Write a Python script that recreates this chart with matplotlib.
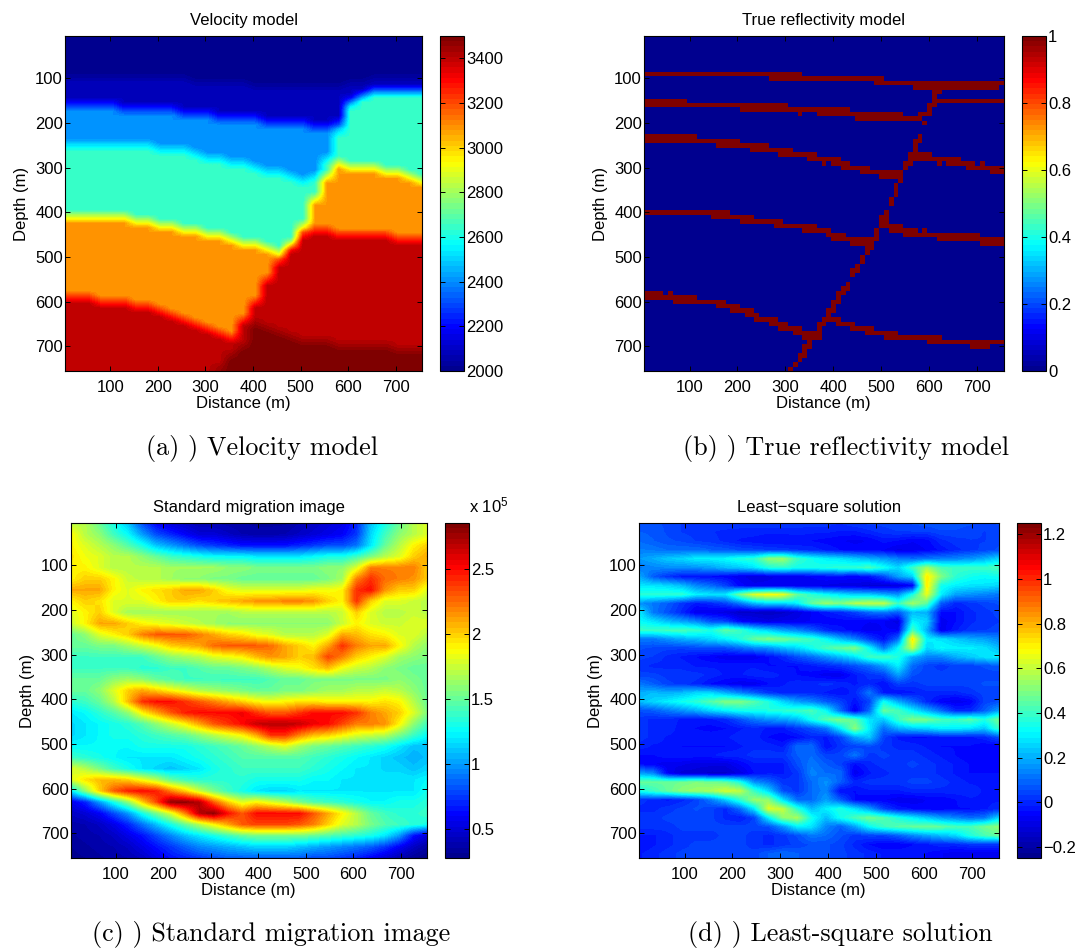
import numpy as np
import matplotlib
matplotlib.use("Agg")
import matplotlib.pyplot as plt
from matplotlib.colors import LinearSegmentedColormap

plt.rcParams['font.family'] = ['Liberation Sans', 'DejaVu Sans']
plt.rcParams['mathtext.default'] = 'regular'
plt.rcParams['axes.unicode_minus'] = True

W, H = 1086, 952

tick_values = [100, 200, 300, 400, 500, 600, 700]

# velocity model: layer speeds and the depth of each interface, one value per column
vel_columns = [5, 30, 55, 80, 105, 130, 155, 180, 205, 230, 255, 280, 305, 330, 355, 380,
               405, 430, 455, 480, 505, 530, 555, 580, 605, 630, 655, 680, 705, 730, 755]
vel_layers = [2000, 2090, 2400, 2640, 3080, 3400, 3500]
vel_interfaces = [
    [95, 95, 95, 95, 95, 95, 95, 95, 100, 100, 100, 105, 105, 110, 110, 110,
     115, 115, 115, 120, 120, 120, 120, 115, 105, 105, 100, 100, 100, 95, 95],
    [160, 160, 160, 160, 160, 165, 165, 165, 170, 172, 175, 178, 180, 185, 185, 190,
     190, 195, 195, 200, 200, 205, 205, 195, 150, 135, 130, 130, 128, 125, 125],
    [245, 245, 245, 245, 247, 248, 250, 252, 255, 258, 263, 268, 275, 280, 287, 292,
     298, 305, 312, 320, 328, 318, 275, 215, 155, 135, 130, 130, 128, 125, 125],
    [410, 410, 410, 410, 412, 414, 418, 424, 430, 434, 438, 442, 447, 452, 458, 465,
     472, 480, 485, 465, 425, 370, 320, 292, 295, 298, 300, 305, 310, 318, 325],
    [585, 590, 590, 595, 597, 600, 605, 610, 615, 625, 635, 645, 655, 670, 675, 640,
     595, 550, 505, 480, 445, 440, 440, 445, 445, 448, 450, 452, 455, 458, 462],
    [770, 770, 770, 770, 770, 770, 770, 770, 770, 770, 770, 770, 770, 750, 720, 695,
     650, 660, 670, 678, 685, 690, 693, 697, 700, 702, 703, 704, 705, 705, 705],
]

# reflectivity model: (depth, first x, last x) of every run of reflective cells
refl_runs = [
    (90, 10, 330), (100, 270, 500), (110, 490, 750), (120, 570, 740), (130, 610, 620),
    (140, 610, 610), (150, 10, 90), (150, 610, 750), (160, 10, 300), (160, 600, 610),
    (170, 210, 430), (170, 600, 600), (180, 330, 330), (180, 370, 540), (180, 580, 600),
    (190, 450, 580), (200, 590, 590),
    (230, 10, 110), (230, 580, 580), (240, 10, 200), (240, 570, 580), (250, 160, 260),
    (250, 570, 570), (260, 230, 310), (260, 570, 570), (270, 290, 360), (270, 560, 600),
    (280, 350, 410), (280, 560, 660), (290, 380, 380), (290, 400, 430), (290, 550, 560),
    (290, 620, 620), (290, 640, 690), (290, 710, 710), (300, 420, 470), (300, 550, 550),
    (300, 680, 750), (310, 460, 530), (310, 540, 540), (310, 730, 750), (320, 500, 540),
    (330, 540, 540), (340, 530, 530), (350, 530, 530), (360, 530, 530), (370, 520, 520),
    (380, 520, 520),
    (400, 10, 180), (400, 510, 510), (410, 150, 230), (410, 500, 510), (420, 210, 290),
    (420, 500, 510), (430, 280, 360), (430, 500, 540), (440, 340, 390), (440, 490, 490),
    (440, 520, 570), (440, 590, 590), (450, 390, 420), (450, 490, 490), (450, 550, 700),
    (460, 400, 470), (460, 480, 490), (460, 620, 700), (460, 710, 750), (470, 440, 480),
    (470, 710, 750), (480, 470, 480), (490, 470, 470), (500, 460, 460), (510, 460, 460),
    (520, 450, 450), (530, 440, 450), (540, 440, 440), (560, 430, 430), (570, 420, 430),
    (580, 10, 40), (580, 60, 60), (580, 410, 420), (590, 10, 110), (590, 410, 410),
    (600, 70, 170), (600, 400, 410), (610, 160, 200), (610, 400, 400), (620, 190, 230),
    (620, 390, 400), (630, 220, 240), (630, 390, 390), (640, 240, 280), (640, 380, 410),
    (650, 270, 300), (650, 370, 380), (650, 410, 440), (660, 290, 330), (660, 370, 370),
    (660, 440, 480), (670, 320, 370), (670, 470, 530), (680, 340, 370), (680, 510, 620),
    (690, 350, 350), (690, 600, 750), (700, 340, 350), (700, 690, 720), (710, 340, 340),
    (720, 330, 340), (730, 330, 330), (740, 320, 320), (750, 310, 310),
]

# standard migration image, in units of 10^4
mig_columns = [5, 35, 65, 95, 125, 155, 185, 215, 245, 275, 305, 335, 365,
               395, 425, 455, 485, 515, 545, 575, 605, 635, 665, 695, 725, 755]
mig_depths = [5, 30, 55, 80, 105, 130, 155, 180, 205, 230, 255, 280, 305, 330, 355, 380,
              405, 430, 455, 480, 505, 530, 555, 580, 605, 630, 655, 680, 705, 730, 755]
mig_values = [
    [17, 17, 15, 13, 11, 8, 6, 5, 4.5, 4, 4, 3.8, 3.6, 3.5, 3.5, 3.5, 4, 4.5, 5, 5.5, 7, 11, 13, 15, 17, 18],
    [19, 17, 16, 14, 12.5, 10, 8, 7, 6, 5, 5, 4.5, 4, 3.8, 3.8, 4, 4.5, 5, 5.5, 6, 7.5, 11.5, 14, 16, 17, 18],
    [19, 18, 17, 16, 14.5, 13, 11, 10, 9, 8, 7.5, 7, 6.5, 6.5, 6.5, 6.5, 7, 7.5, 8, 8, 9, 12, 15, 17, 19, 20],
    [19.5, 18.5, 18, 17, 17, 16, 15, 14, 13.5, 13, 12.5, 12.5, 12.5, 12, 12, 12, 12, 12.5, 13, 13, 14, 15.5, 17, 18, 20, 21],
    [19, 19, 18, 17, 17, 17, 17, 16.5, 16.5, 16.5, 16.5, 16, 16, 15.5, 15.5, 15.5, 15.5, 15.5, 16, 16, 18, 22, 22, 22, 22, 20],
    [19, 20, 20, 19, 17.5, 17, 17, 16.5, 16, 16, 15.5, 15.5, 15, 15, 15, 15, 15, 15, 15.5, 16.5, 22, 24, 22.5, 22, 21.5, 20],
    [21, 21, 21, 19, 18, 19, 19.5, 20, 21, 21, 20, 18.5, 18, 18, 18, 18, 18, 18.5, 18.5, 19, 24, 25, 21.5, 20, 20, 18],
    [19, 20, 19.5, 18, 18, 18, 19, 20, 20, 19.5, 20, 20.5, 21, 21.5, 21.5, 22, 22, 21.5, 20, 19, 24, 20, 18, 18, 17.5, 17],
    [18, 19, 20, 18, 16.5, 16.5, 16.5, 16.5, 16.5, 16.5, 16.5, 16.5, 17, 17, 17, 17, 17, 17, 17, 17.5, 20, 18, 17, 17, 17.5, 17],
    [17.5, 19, 21, 21, 20, 19, 18.5, 18, 17.5, 17, 16.5, 16, 16, 16, 16, 16, 16, 16, 16, 17.5, 19, 18, 17.5, 17.5, 18, 18],
    [15, 16, 18, 19, 20, 22, 23, 23, 23, 22, 21, 20, 19.5, 18.5, 18, 17, 17, 17, 18, 21, 20.5, 19.5, 19, 18, 18, 17],
    [15, 15, 15.5, 15.5, 16.5, 17.5, 18.5, 20, 20.5, 21, 22.5, 23, 23, 23, 22.5, 21, 20, 19, 21, 24, 22, 21, 21, 19, 17, 16],
    [14, 14, 14, 14, 14, 14, 15, 16, 16.5, 17, 18, 18.5, 19, 20.5, 21.5, 21, 20, 20.5, 23.5, 22, 20, 19, 18, 16.5, 16, 15.5],
    [14, 14, 14, 14, 14, 13.5, 13.5, 14, 14, 14.5, 15, 15, 15.5, 16, 17, 18, 18.5, 19.5, 20.5, 18.5, 17.5, 17, 16, 15.5, 15, 15],
    [15, 15, 15, 16, 16.5, 16, 15, 14.5, 14, 14, 14, 14, 14, 14, 14.5, 15, 15, 15.5, 15.5, 15.5, 15.5, 15.5, 15.5, 16, 15.5, 15],
    [15, 15, 16, 18, 20, 21, 20, 19, 18, 17, 16.5, 16, 15.5, 15, 15, 15.5, 15.5, 16, 16.5, 16.5, 17, 17, 17.5, 17, 16, 15],
    [13.5, 14, 15, 17, 20.5, 24, 25, 25, 24, 23, 22, 21, 20, 19, 18.5, 19, 19.5, 19.5, 19, 19, 19, 19, 19.5, 19, 17, 15],
    [12, 12.5, 13.5, 14.5, 16, 19, 21, 23, 24.5, 25, 25, 25, 25.5, 24, 23, 23, 24, 25, 25, 25, 24, 22, 21, 20, 18, 15.5],
    [11.5, 12, 12.5, 13, 13.5, 14.5, 16, 17.5, 19, 21, 23, 24, 25, 26.5, 27, 27, 26.5, 25.5, 25, 23.5, 22, 22, 21.5, 19, 16, 14],
    [11.5, 12, 12.5, 13, 13, 13.5, 14, 14.5, 15, 16, 17, 18, 19, 21, 24, 24, 22, 20.5, 20, 19, 18, 17.5, 17, 15.5, 14, 12.5],
    [12.5, 12.5, 12.5, 12.5, 12.5, 13, 13, 13, 13, 13.5, 14, 14.5, 15, 16, 17, 18, 16.5, 15.5, 15, 14.5, 14, 13.5, 13, 12, 11, 11],
    [14, 13.5, 13, 12.5, 12, 12, 12, 12, 12.5, 13, 13.5, 14, 14.5, 14.5, 14.5, 14.5, 14.5, 14, 13.5, 13, 12.5, 12, 11.5, 11, 10.5, 11],
    [18, 17, 15.5, 14, 13, 12, 11.5, 11, 11.5, 12, 13, 13.5, 14, 14, 14, 14, 14, 13.5, 13, 12.5, 12, 12, 11.5, 11.5, 11, 11.5],
    [18, 19.5, 20.5, 20.5, 20, 18.5, 17, 15, 14, 13.5, 13.5, 13.5, 13.5, 13, 13, 13, 13, 12.5, 12.5, 12, 12, 12, 12, 12, 12, 12.5],
    [12, 16, 20, 23, 24.5, 25, 24.5, 22, 20, 17.5, 15.5, 14, 13, 12, 11.5, 11.5, 12, 12, 12, 12, 12, 12, 12, 12, 12, 13],
    [5.5, 7, 10, 13, 16, 20, 23.5, 28, 28, 27, 23, 20, 18, 19, 18, 17, 15.5, 14.5, 14, 13.5, 13, 12.5, 12.5, 13, 13, 13.5],
    [4.5, 5, 6, 8, 10, 13, 15.5, 18, 22, 27, 28, 25, 23, 25, 25, 25, 25, 23, 21, 19, 17, 15, 14, 13.5, 13.5, 14],
    [3.8, 4, 4.5, 5.5, 7, 9, 11, 13, 15, 17, 19, 21, 23, 23.5, 23.5, 23.5, 23, 22, 20, 18, 17, 15.5, 14.5, 14, 13.5, 13],
    [3.5, 3.8, 4, 4.5, 5.5, 6.5, 8, 9.5, 11, 12, 13, 14, 15, 15.5, 15.5, 15.5, 15.5, 15, 14.5, 14, 13.5, 13, 12, 10, 6.5, 5],
    [3.2, 3.5, 3.8, 4, 4.5, 5.5, 6.5, 7.5, 8.5, 9.5, 10, 10.5, 11, 11.5, 11.5, 11.5, 11, 10.5, 10, 9.5, 9, 8.5, 7.5, 6, 4.5, 3.5],
    [3, 3.2, 3.5, 3.8, 4, 4.5, 5.5, 6.5, 7, 7.5, 8, 8.5, 8.5, 8.5, 8.5, 8.5, 8.5, 8, 8, 7.5, 7, 6, 5, 4, 3.2, 2.8],
]

# least-square solution, in hundredths
lsq_columns = mig_columns
lsq_depths = [5, 25, 45, 65, 85, 105, 125, 145, 165, 185, 205, 225, 245, 265, 285, 305, 325, 345, 365,
              385, 405, 425, 445, 465, 485, 505, 525, 545, 565, 585, 605, 625, 645, 665, 685, 705, 725, 745]
lsq_values = [
    [6, 6, 5, 3, 3, 3, 3, 2, 2, 3, 3, 2, 2, 2, 1, 3, 4, 4, 5, 6, 7, 8, 7, 6, 5, 6],
    [8, 7, 5, 3, 2, 1, 0, 0, 0, -1, -1, 0, -1, -1, -2, -2, 0, 2, 3, 3, 3, 5, 5, 4, 3, 4],
    [10, 8, 6, 5, 3, 2, 0, -2, -3, -4, -4, -4, -4, -5, -6, -7, -6, -3, -4, -6, -5, 0, 2, 3, 3, 5],
    [13, 12, 10, 10, 10, 8, 7, 5, 4, 3, 2, 1, 0, -2, -4, -5, -5, -6, -9, -8, -6, -3, 0, 2, 4, 6],
    [17, 20, 24, 26, 30, 30, 32, 36, 38, 52, 54, 40, 34, 30, 28, 24, 20, 17, 13, 10, 12, 13, 14, 16, 20, 26],
    [12, 14, 15, 15, 16, 18, 22, 24, 28, 36, 38, 34, 34, 36, 38, 38, 42, 34, 26, 40, 55, 42, 40, 40, 40, 42],
    [20, 8, 2, -2, -3, -4, -5, -8, -10, -9, -8, -7, -6, -4, -4, -5, -3, 5, 18, 25, 72, 50, 38, 34, 32, 34],
    [28, 28, 26, 22, 14, 10, 4, -5, -8, -8, -8, -8, -8, -9, -10, -10, -12, -12, -10, -6, 72, 34, 30, 28, 28, 26],
    [38, 38, 38, 38, 30, 28, 28, 48, 64, 68, 66, 46, 38, 32, 28, 24, 24, 20, 16, 35, 65, 30, 18, 16, 14, 12],
    [16, 12, 8, 2, -2, 0, 4, 12, 22, 26, 26, 30, 46, 54, 50, 58, 60, 60, 40, 55, 45, 8, 0, 2, 4, 6],
    [30, 12, 6, 0, -8, -8, -10, -14, -14, -15, -14, -10, -6, -2, 0, 4, 10, 12, 8, 22, 20, -4, -4, 0, 2, 4],
    [32, 28, 22, 18, 14, 6, 4, -5, -8, -10, -8, -8, -6, -6, -5, -5, -6, -6, -10, 30, 26, -8, -4, 0, 2, 3],
    [40, 40, 42, 42, 40, 35, 45, 40, 30, 25, 18, 14, 8, 0, -3, -5, -8, -6, -6, 42, 20, -8, -2, 2, 3, 4],
    [12, 12, 16, 20, 22, 26, 30, 36, 46, 50, 48, 44, 40, 32, 22, 14, 4, -4, 10, 72, 30, 28, 24, 20, 18, 14],
    [6, 5, 4, 4, 5, 6, 6, 10, 14, 16, 22, 26, 34, 42, 46, 50, 32, 12, 32, 60, 26, 32, 30, 30, 28, 22],
    [4, 3, 0, -2, -4, -6, -8, -8, -8, -4, 0, 6, 10, 16, 22, 28, 40, 42, 36, 20, 14, 14, 20, 24, 28, 30],
    [2, 0, 0, 0, -2, -2, -2, -2, -2, -4, -4, -4, -2, 0, 2, 6, 10, 18, 30, 10, 4, 2, 4, 4, 6, 8],
    [4, 4, 2, 2, 2, 0, -2, -2, 0, 0, -2, -4, -5, -8, -8, -2, 2, 4, 18, 6, 4, 4, 4, 4, 4, 4],
    [12, 8, 4, 2, 0, -4, -6, -8, -8, -4, -2, 0, 0, 2, 0, -2, 0, -4, 4, 2, 4, 4, 4, 4, 6, 6],
    [20, 22, 20, 22, 26, 26, 20, 14, 8, 2, 0, 0, 0, -2, -4, 0, 12, -2, -4, -2, 0, 0, 0, 2, 4, 4],
    [22, 26, 30, 34, 38, 44, 50, 50, 44, 36, 26, 18, 14, 8, 4, -3, 4, 34, 20, 10, 0, -6, -8, -6, 4, 6],
    [6, 8, 12, 16, 20, 26, 30, 34, 34, 36, 38, 40, 42, 32, 10, -8, 10, 46, 42, 30, 20, 10, 0, 0, 8, 18],
    [2, 0, 0, -2, -3, -2, 0, 6, 12, 16, 18, 22, 34, 44, 50, 44, 28, 24, 40, 50, 48, 42, 40, 44, 36, 48],
    [2, 0, 0, -3, -4, -5, -4, -2, 0, -2, -2, 2, 6, 12, 30, 52, 30, 10, 20, 24, 26, 30, 30, 28, 24, 40],
    [2, 0, -2, -2, -2, -2, -2, 0, 0, -4, -6, -4, 0, -2, 4, 18, 24, 4, -2, -4, -4, -2, -2, -2, 0, 6],
    [0, -2, -2, -4, -4, -4, -4, -2, 0, 0, -2, 10, 10, -4, 2, 4, 6, 2, 0, 0, -2, -4, -4, -4, -6, -6],
    [-4, -4, -2, -2, -2, -2, 0, 0, 2, 2, 2, 8, 10, 4, 4, 12, 2, 4, 2, 2, 0, -2, -4, -6, -6, -6],
    [-4, -6, -8, -8, -10, -10, -10, -6, -2, -2, -2, 6, 12, 8, 4, -4, 0, 2, 2, 4, 2, 0, -2, -4, -6, -6],
    [18, 14, -6, -12, -12, -14, -14, -10, -4, -2, -2, 2, 14, 10, 10, -8, -2, 0, 2, 2, 2, 0, -2, -4, -4, -4],
    [46, 46, 46, 48, 50, 48, 46, 36, 16, 10, 2, 2, 10, 16, 8, 0, 2, 2, 2, 4, 4, 2, 0, -2, -2, -2],
    [34, 40, 46, 52, 54, 56, 62, 60, 40, 26, 6, 2, 10, 14, -4, -4, -2, -2, -2, 0, 0, 0, 0, 0, -2, -2],
    [2, 0, -2, 0, 4, 12, 24, 38, 54, 52, 28, 10, 10, 18, 8, -4, -6, -6, -8, -8, -6, -6, -4, -2, -2, -2],
    [0, 0, 2, 4, 6, 4, 0, 10, 28, 64, 60, 38, 22, 30, 36, 28, 18, 4, -2, -4, -6, -6, -4, -4, -2, 0],
    [2, 2, 4, 4, 4, 4, 0, -2, 4, 30, 52, 56, 34, 22, 34, 42, 48, 44, 36, 30, 24, 18, 14, 10, 12, 26],
    [2, 2, 2, 4, 4, 4, 4, 4, 4, 6, 16, 30, 28, 14, 8, 18, 32, 40, 44, 46, 48, 46, 42, 42, 48, 52],
    [-2, -2, 0, 2, 2, 2, 4, 4, 2, 0, 2, 6, 12, 10, 6, 2, 4, 4, 8, 14, 18, 22, 26, 36, 42, 46],
    [-4, -2, 0, 2, 4, 4, 4, 4, 2, 0, 2, 4, 6, 6, 4, 0, -4, -6, -6, -4, -2, 0, 0, 2, 2, 2],
    [-2, 0, 2, 4, 4, 4, 4, 4, 4, 8, 10, 8, 6, 6, 4, 2, 0, -2, -2, -2, -4, -6, -8, -8, -8, -8],
]

# the old matlab jet, 64 steps
jet = LinearSegmentedColormap.from_list('matlab_jet', [
    (0, (0, 0, 0.5625)), (0.125, (0, 0, 1)), (0.375, (0, 1, 1)),
    (0.625, (1, 1, 0)), (0.875, (1, 0, 0)), (1, (0.5, 0, 0))], N=64)


def box(left, top, right, bottom):
    return [left / W, 1 - bottom / H, (right - left) / W, (bottom - top) / H]


def panel(xs, ys, z, rect, cbar_rect, clim, cbar_ticks, cbar_labels, title, caption, cap_x, cap_y, interp='bilinear'):
    ax = fig.add_axes(box(*rect))
    dx = (xs[1] - xs[0]) / 2
    dy = (ys[1] - ys[0]) / 2
    im = ax.imshow(z, cmap=jet, vmin=clim[0], vmax=clim[1], aspect='auto', interpolation=interp,
                   extent=(xs[0] - dx, xs[-1] + dx, ys[-1] + dy, ys[0] - dy))
    ax.set_xlim(5, 755)
    ax.set_ylim(755, 5)
    ax.set_xticks(tick_values)
    ax.set_yticks(tick_values)
    ax.tick_params(direction='in', top=True, right=True, length=3.5, width=0.7, labelsize=12, pad=1.5)
    ax.tick_params(axis='x', pad=6.5)
    ax.set_xlabel("Distance (m)", fontsize=12, labelpad=1)
    ax.set_ylabel("Depth (m)", fontsize=12, labelpad=4)
    ax.set_title(title, fontsize=12, pad=8)
    for s in ax.spines.values():
        s.set_linewidth(0.8)

    cax = fig.add_axes(box(*cbar_rect))
    cb = fig.colorbar(im, cax=cax)
    cb.set_ticks(cbar_ticks)
    cb.set_ticklabels(cbar_labels)
    cax.tick_params(direction='in', left=True, right=True, length=3.5, width=0.7, labelsize=12, pad=1.5)
    cb.outline.set_linewidth(0.8)
    fig.text(cap_x / W, 1 - cap_y / H, caption, family='cmr10', fontsize=18.8, ha='center', va='center')


# build the two model grids from the picked interfaces and runs
vel_depths = list(range(5, 760, 10))
vel_sharp = np.zeros((len(vel_depths), len(vel_columns)))
for c in range(len(vel_columns)):
    for r, d in enumerate(vel_depths):
        n_above = sum(d > iface[c] for iface in vel_interfaces)
        vel_sharp[r, c] = vel_layers[n_above]
# the model in the picture is slightly smoothed over about 30 m of depth
vel_grid = np.array([vel_sharp[max(r - 1, 0):r + 2].mean(axis=0) for r in range(len(vel_depths))])

refl_x = list(range(10, 760, 10))
refl_grid = np.zeros((75, 75))
for depth, x0, x1 in refl_runs:
    refl_grid[depth // 10 - 1, x0 // 10 - 1:x1 // 10] = 1

fig = plt.figure(figsize=(W / 100, H / 100), dpi=100)

panel(vel_columns, vel_depths, vel_grid, (65, 36, 422, 371), (440, 36, 464, 371), (2000, 3500),
      [2000, 2200, 2400, 2600, 2800, 3000, 3200, 3400],
      ['2000', '2200', '2400', '2600', '2800', '3000', '3200', '3400'],
      "Velocity model", "(a) ) Velocity model", 262, 448)

panel(refl_x, refl_x, refl_grid, (644, 36, 1003.5, 371), (1022, 36, 1046, 371), (0, 1),
      [0, 0.2, 0.4, 0.6, 0.8, 1], ['0', '0.2', '0.4', '0.6', '0.8', '1'],
      "True reflectivity model", "(b) ) True reflectivity model", 846, 448, interp='nearest')

panel(mig_columns, mig_depths, np.array(mig_values) * 1e4, (70.5, 523, 427, 858), (445, 523, 469, 858),
      (2.8e4, 2.85e5), [0.5e5, 1e5, 1.5e5, 2e5, 2.5e5], ['0.5', '1', '1.5', '2', '2.5'],
      "Standard migration image", "(c) ) Standard migration image", 271, 935)
fig.text(469 / W, 1 - 512 / H, r"x 10$^{5}$", fontsize=12, ha='left', va='baseline')

panel(lsq_columns, lsq_depths, np.array(lsq_values) / 100, (639, 523, 998.5, 858), (1016.5, 523, 1041, 858),
      (-0.25, 1.25), [-0.2, 0, 0.2, 0.4, 0.6, 0.8, 1, 1.2],
      ['\u22120.2', '0', '0.2', '0.4', '0.6', '0.8', '1', '1.2'],
      "Least\u2212square solution", "(d) ) Least-square solution", 840, 935)

fig.savefig("out.png", dpi=100)
